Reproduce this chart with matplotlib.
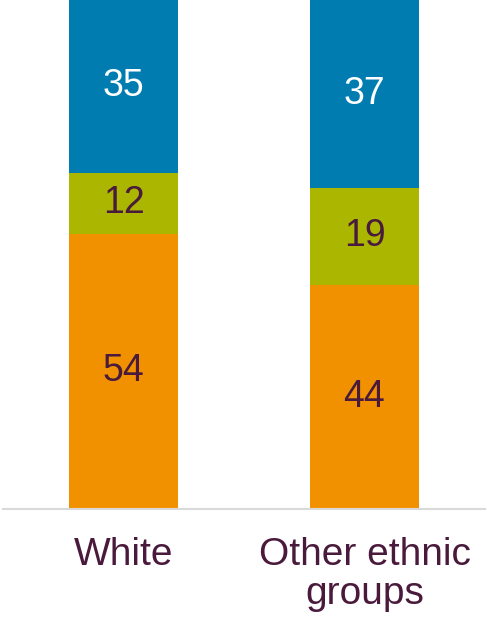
import matplotlib.pyplot as plt

plt.rcParams['font.family'] = ['Liberation Sans', 'DejaVu Sans']

categories = ['White', 'Other ethnic\ngroups']
orange_vals = [54, 44]
green_vals = [12, 19]
blue_vals = [35, 37]

orange = '#f29100'
green = '#aab600'
blue = '#007cb0'
text_dark = '#4a1a3c'

fig = plt.figure(figsize=(4.87, 6.2), dpi=100)
ax = fig.add_axes([3 / 487, 111 / 620, 482 / 487, 509 / 620])

x = range(len(categories))
width = 0.455
ax.bar(x, orange_vals, width, color=orange)
ax.bar(x, green_vals, width, bottom=orange_vals, color=green)
bottoms = [o + g for o, g in zip(orange_vals, green_vals)]
ax.bar(x, blue_vals, width, bottom=bottoms, color=blue)

ymax = 99.9
for i in x:
    ax.text(i, orange_vals[i] / 2, str(orange_vals[i]), ha='center', va='center',
            fontsize=27, color=text_dark)
    ax.text(i, orange_vals[i] + green_vals[i] / 2, str(green_vals[i]), ha='center',
            va='center', fontsize=27, color=text_dark)
    top = min(bottoms[i] + blue_vals[i], ymax)
    ax.text(i, (bottoms[i] + top) / 2, str(blue_vals[i]), ha='center', va='center',
            fontsize=27, color='white')

ax.set_xlim(-0.5, 1.5)
ax.set_ylim(0, ymax)
ax.set_xticks(list(x))
ax.set_xticklabels(categories, fontsize=28, color=text_dark, linespacing=1.12)
ax.tick_params(axis='x', length=0, pad=20)
ax.set_yticks([])
for s in ['top', 'left', 'right']:
    ax.spines[s].set_visible(False)
ax.spines['bottom'].set_color('#d9d9d9')
ax.spines['bottom'].set_linewidth(1.5)

fig.savefig('out.png', dpi=100)
